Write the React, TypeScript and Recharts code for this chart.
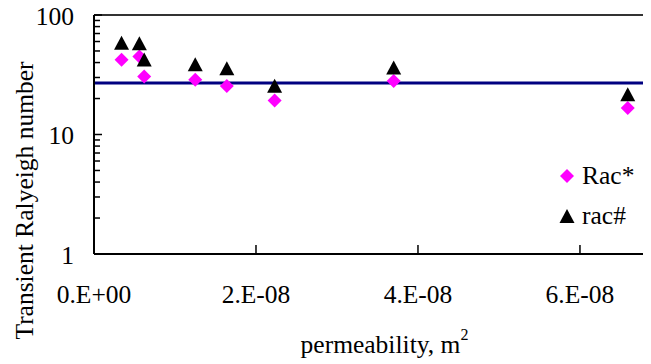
import React from "react";
import {
  ScatterChart,
  Scatter,
  XAxis,
  YAxis,
  ReferenceLine,
  Legend,
  Label,
} from "recharts";

// permeability (m^2)
const permeability = [0.34e-8, 0.56e-8, 0.62e-8, 1.25e-8, 1.64e-8, 2.23e-8, 3.7e-8, 6.59e-8];
// Rac* series
const racStar = [42.2, 45, 30.6, 28.7, 25.4, 19.3, 28.1, 16.7];
// rac# series
const racHash = [58.5, 58, 42.4, 38.8, 35.9, 25.6, 36.4, 21.7];
// reference horizontal level
const refLevel = 27;

const xTicks = [0, 2e-8, 4e-8, 6e-8];
const xTickLabels = ["0.E+00", "2.E-08", "4.E-08", "6.E-08"];
const yMajorTicks = [1, 10, 100];
const yAllTicks = [1, 2, 3, 4, 5, 6, 7, 8, 9, 10, 20, 30, 40, 50, 60, 70, 80, 90, 100];

const starData = permeability.map((x, i) => ({ x, y: racStar[i] }));
const hashData = permeability.map((x, i) => ({ x, y: racHash[i] }));

const FONT = "'Liberation Serif', 'DejaVu Serif', 'Tinos', 'Noto Serif', serif";
const FS = 25.5;
const textStyle = { fontFamily: FONT };

const Diamond = (props: any) => {
  const { cx, cy } = props;
  const r = 7;
  return (
    <polygon
      points={`${cx},${cy - r} ${cx + r},${cy} ${cx},${cy + r} ${cx - r},${cy}`}
      fill="#FF00FF"
    />
  );
};

const Triangle = (props: any) => {
  const { cx, cy } = props;
  const w = 7.5;
  const h = 7;
  return (
    <polygon
      points={`${cx},${cy - h} ${cx + w},${cy + h} ${cx - w},${cy + h}`}
      fill="#000000"
    />
  );
};

const YTick = (props: any) => {
  const { x, y, payload } = props;
  const v = payload.value;
  const major = yMajorTicks.includes(v);
  return (
    <g>
      <line x1={x} x2={x + (major ? 8 : 6)} y1={y} y2={y} stroke="#000" strokeWidth={1.5} />
      {major && (
        <text
          x={x - 20}
          y={y + 1}
          textAnchor="end"
          dominantBaseline="central"
          style={textStyle}
          fontSize={FS}
          fill="#000"
        >
          {v}
        </text>
      )}
    </g>
  );
};

const XTick = (props: any) => {
  const { x, y, payload } = props;
  const idx = xTicks.indexOf(payload.value);
  return (
    <g>
      <line x1={x} x2={x} y1={y} y2={y - 9} stroke="#000" strokeWidth={1.5} />
      <text
        x={x}
        y={y + 49}
        textAnchor="middle"
        style={textStyle}
        fontSize={FS}
        fill="#000"
      >
        {idx >= 0 ? xTickLabels[idx] : ""}
      </text>
    </g>
  );
};

const LegendContent = () => (
  <div style={{ fontFamily: FONT, fontSize: FS, color: "#000", lineHeight: "40px" }}>
    <div style={{ display: "flex", alignItems: "center" }}>
      <svg width={16} height={16} style={{ marginRight: 7 }}>
        <polygon points="8,1 15,8 8,15 1,8" fill="#FF00FF" />
      </svg>
      <span>Rac*</span>
    </div>
    <div style={{ display: "flex", alignItems: "center" }}>
      <svg width={16} height={16} style={{ marginRight: 7 }}>
        <polygon points="8,1 15.5,15 0.5,15" fill="#000" />
      </svg>
      <span>rac#</span>
    </div>
  </div>
);

export default function App() {
  return (
    <div style={{ marginTop: -8, width: 643, height: 364 }}>
      <ScatterChart
        width={643}
        height={364}
        margin={{ top: 15, right: 0, bottom: 0, left: 0 }}
        style={{ background: "#fff" }}
      >
        <XAxis
          type="number"
          dataKey="x"
          domain={[0, 6.877e-8]}
          ticks={xTicks}
          interval={0}
          allowDataOverflow
          height={110}
          tickSize={0}
          tickMargin={0}
          tickLine={false}
          tick={<XTick />}
          axisLine={{ stroke: "#000", strokeWidth: 2 }}
        >
          <Label
            content={(p: any) => {
              const vb = p.viewBox;
              return (
                <text
                  x={vb.x + vb.width / 2 + 12}
                  y={vb.y + 99}
                  textAnchor="middle"
                  style={textStyle}
                  fontSize={FS}
                  fill="#000"
                >
                  <tspan>permeability, m</tspan>
                  <tspan dy={-13} fontSize={16}>2</tspan>
                </text>
              );
            }}
          />
        </XAxis>
        <YAxis
          type="number"
          dataKey="y"
          scale="log"
          domain={[1, 100]}
          ticks={yAllTicks}
          interval={0}
          allowDataOverflow
          width={86}
          tickSize={0}
          tickMargin={0}
          tickLine={false}
          tick={<YTick />}
          axisLine={{ stroke: "#000", strokeWidth: 2 }}
        >
          <Label
            content={(p: any) => {
              const vb = p.viewBox;
              const cx = vb.x + 16;
              const cy = vb.y + vb.height / 2 + 66;
              return (
                <text
                  x={cx}
                  y={cy}
                  transform={`rotate(-90 ${cx} ${cy})`}
                  textAnchor="middle"
                  dominantBaseline="central"
                  style={textStyle}
                  fontSize={FS}
                  fill="#000"
                >
                  Transient Ralyeigh number
                </text>
              );
            }}
          />
        </YAxis>
        <ReferenceLine y={100} stroke="#333" strokeWidth={2} />
        <ReferenceLine y={refLevel} stroke="#000080" strokeWidth={3} />
        <Scatter name="Rac*" data={starData} shape={<Diamond />} isAnimationActive={false} />
        <Scatter name="rac#" data={hashData} shape={<Triangle />} isAnimationActive={false} />
        <Legend
          layout="vertical"
          align="center"
          verticalAlign="middle"
          content={<LegendContent />}
          wrapperStyle={{ left: 551, top: 156, width: 90 }}
        />
      </ScatterChart>
    </div>
  );
}
